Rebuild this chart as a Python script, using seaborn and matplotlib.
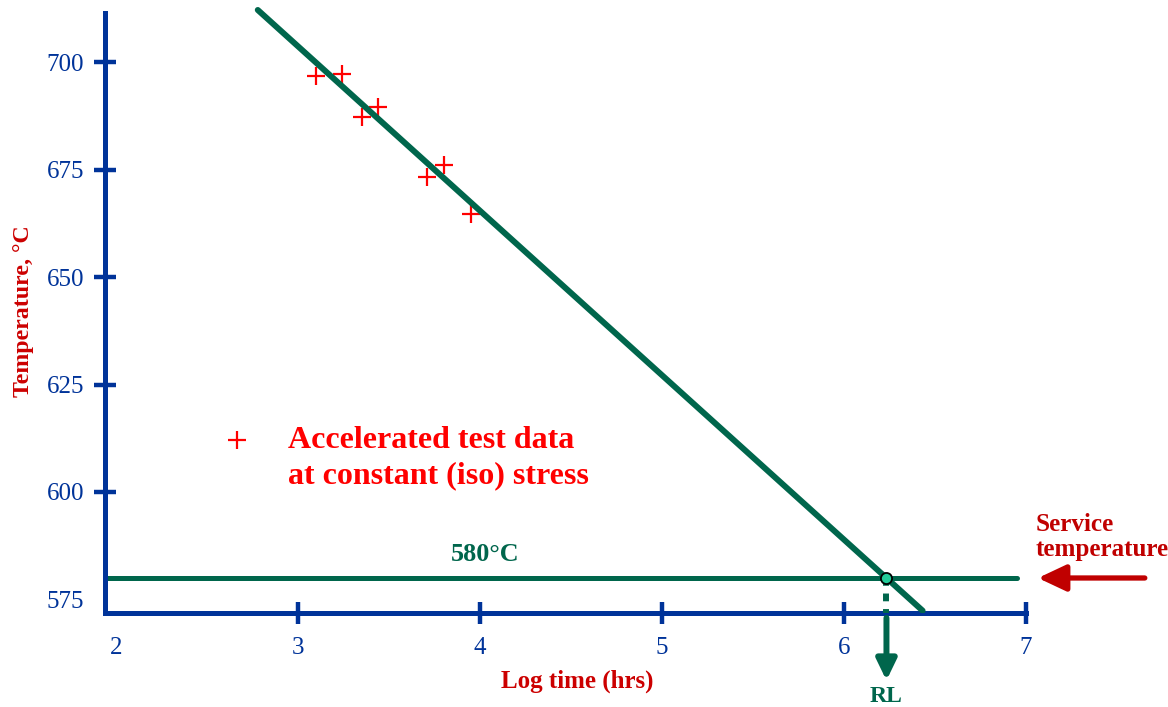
import matplotlib
matplotlib.use("Agg")
import matplotlib.pyplot as plt
import numpy as np
import seaborn as sns

# Accelerated creep tests at constant (iso) stress
log_time = [3.10, 3.24, 3.35, 3.44, 3.71, 3.80, 3.95]
temperature = [696.7, 697.2, 687.3, 689.5, 673.2, 676.0, 664.7]

# Iso-stress line drawn through the test points and extrapolated
fit_log_time = [2.779, 6.432]
fit_temperature = [712.1, 572.4]

service_temp = 580

x_ticks = [2, 3, 4, 5, 6, 7]
y_ticks = [575, 600, 625, 650, 675, 700]

BLUE = "#003399"
GREEN = "#00664C"
AQUA = "#22CC99"
RED = "#FF0000"
DARKRED = "#CC0000"
SERVICE_RED = "#C00000"

sns.set_style("white")
plt.rcParams["font.family"] = ["Liberation Serif", "DejaVu Serif"]

W, H = 1168, 707
fig = plt.figure(figsize=(W / 100, H / 100), dpi=100)
ax = fig.add_axes([105 / W, 1 - 613 / H, 921 / W, 613 / H])

x_min, x_max = 1.9396, 7.0
y_min, y_max = 571.86, 714.42
ax.set_xlim(x_min, x_max)
ax.set_ylim(y_min, y_max)

# Test points
sns.scatterplot(x=log_time, y=temperature, marker="+", s=170, color=RED,
                linewidth=1.6, ax=ax, zorder=3, legend=False)

# Extrapolated line
sns.lineplot(x=fit_log_time, y=fit_temperature, color=GREEN, linewidth=4.3,
             ax=ax, zorder=4, legend=False)

# Service temperature
ax.axhline(service_temp, xmin=0, xmax=0.99, color=GREEN, linewidth=3.6, zorder=2)

# Remaining life: where the line meets the service temperature
rupture_log_time = float(np.interp(service_temp, fit_temperature[::-1], fit_log_time[::-1]))
ax.plot([rupture_log_time, rupture_log_time], [service_temp, y_min], color=GREEN,
        linewidth=4.3, linestyle=(0, (1.3, 1.3)), zorder=5)
ax.plot([rupture_log_time], [service_temp], marker="o", markersize=8,
        markerfacecolor=AQUA, markeredgecolor="black", markeredgewidth=1.3, zorder=7)

xblend = ax.get_xaxis_transform()   # x in data, y in axes fraction
yblend = ax.get_yaxis_transform()   # x in axes fraction, y in data

ax.annotate("", xy=(rupture_log_time, -0.110), xycoords=xblend,
            xytext=(rupture_log_time, -0.008), textcoords=xblend,
            arrowprops=dict(arrowstyle="-|>,head_length=0.62,head_width=0.3",
                            mutation_scale=20, lw=4.3, color=GREEN,
                            shrinkA=0, shrinkB=0),
            annotation_clip=False)
ax.text(rupture_log_time, -0.137, "RL", transform=xblend, ha="center", va="center",
        color=GREEN, fontsize=17, fontweight="bold")

ax.annotate(f"{service_temp}°C", xy=(0.4126, service_temp), xycoords=yblend,
            xytext=(0, 17), textcoords="offset points", ha="center", va="center",
            color=GREEN, fontsize=18.8, fontweight="bold")

# Service temperature call-out on the right
ax.annotate("", xy=(1.013, service_temp), xycoords=yblend,
            xytext=(1.129, service_temp), textcoords=yblend,
            arrowprops=dict(arrowstyle="-|>,head_length=0.85,head_width=0.4",
                            mutation_scale=20, lw=3.8, color=SERVICE_RED,
                            shrinkA=0, shrinkB=0),
            annotation_clip=False)
ax.text(1.0109, 0.124, "Service\ntemperature", transform=ax.transAxes,
        ha="left", va="center", color=SERVICE_RED, fontsize=18.1,
        fontweight="bold", linespacing=1.12)

# Legend key
ax.plot([0.1433], [0.2822], marker="+", markersize=13, markeredgewidth=1.6,
        color=RED, transform=ax.transAxes, linestyle="none")
ax.text(0.1987, 0.2529, "Accelerated test data\nat constant (iso) stress",
        transform=ax.transAxes, ha="left", va="center", color=RED,
        fontsize=23, fontweight="bold", linespacing=1.3)

# Axes styling
for side in ("top", "right"):
    ax.spines[side].set_visible(False)
for side in ("left", "bottom"):
    ax.spines[side].set_color(BLUE)
    ax.spines[side].set_linewidth(3.6)
ax.spines["left"].set_bounds(y_min, 711.4)

ax.set_xticks(x_ticks)
ax.set_xticklabels([str(v) for v in x_ticks])
ax.set_yticks(y_ticks)
ax.set_yticklabels([str(v) for v in y_ticks])
ax.tick_params(axis="both", bottom=True, left=True, direction="inout", length=16,
               width=3.2, color=BLUE, labelcolor=BLUE, labelsize=18)
ax.tick_params(axis="x", pad=9)
ax.tick_params(axis="y", pad=7)
ax.xaxis.get_major_ticks()[0].tick1line.set_visible(False)
ax.yaxis.get_major_ticks()[0].tick1line.set_visible(False)

ax.set_xlabel("Log time (hrs)", color=DARKRED, fontsize=18, fontweight="bold", va="center")
ax.xaxis.set_label_coords(0.5125, -0.111)
ax.set_ylabel("Temperature, °C", color=DARKRED, fontsize=17.2, fontweight="bold", va="center")
ax.yaxis.set_label_coords(-0.088, 0.4927)

fig.savefig("out.png", dpi=100)
